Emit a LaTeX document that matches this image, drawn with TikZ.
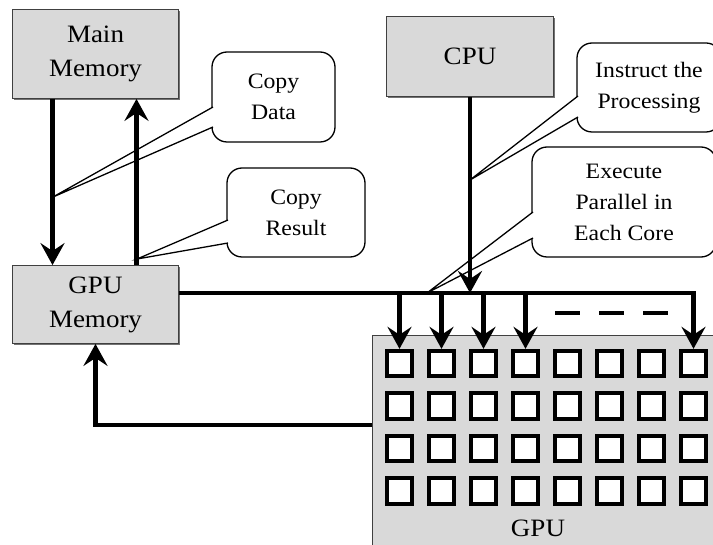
\documentclass[tikz,border=0pt]{standalone}
\usepackage{fontspec}
\setmainfont{Liberation Serif}[FakeStretch=1.08]
\usetikzlibrary{arrows.meta,shadows}
\begin{document}
\begin{tikzpicture}[x=1pt,y=-1pt,
  box/.style={draw=black!75, line width=0.8pt, fill=black!15,
    drop shadow={shadow xshift=1.8pt, shadow yshift=-1.8pt, fill=black!55, opacity=1},
    font=\fontsize{25}{34}\selectfont, align=center, inner sep=0pt},
  callout/.style={draw, line width=1.3pt, fill=white, rounded corners=15pt,
    font=\fontsize{22}{31}\selectfont, align=center, inner sep=0pt},
  wedge/.style={line width=1.3pt},
  flow/.style={line width=4.8pt, -{Stealth[length=22pt,width=24pt,inset=8pt]}},
  bus/.style={line width=4.8pt},
  core/.style={draw, line width=3.8pt, fill=white, minimum size=25.5pt, inner sep=0pt}
]
\useasboundingbox (0,0) rectangle (713,545);
\clip (0,0) rectangle (713,545);

% boxes
\node[box, minimum width=166pt, minimum height=89pt] (main) at (95.5,54) {Main\\Memory};
\node[box, minimum width=166pt, minimum height=78pt] (gmem) at (95.5,304.5) {GPU\\Memory};
\node[box, minimum width=167pt, minimum height=80pt] (cpu) at (470,56.5) {CPU};
\node[box, minimum width=360pt, minimum height=230pt, anchor=north west] (gpu) at (372,335) {};
\node[font=\fontsize{25}{34}\selectfont] (gpulabel) at (538,528) {GPU};

% cores
\foreach \c in {1,...,8}
  \foreach \r in {1,...,4}
    \node[core] (c\r\c) at ({399.5+42*(\c-1)},{363.5+42.5*(\r-1)}) {};

% callouts
\node[callout, minimum width=123pt, minimum height=90pt] (cdata) at (273.5,97) {Copy\\Data};
\node[callout, minimum width=138pt, minimum height=89pt] (cres) at (296,212.5) {Copy\\Result};
\node[callout, minimum width=144pt, minimum height=89pt] (cinst) at (649,87.5) {Instruct the\\Processing};
\node[callout, minimum width=184pt, minimum height=110pt] (cexec) at (624,202) {Execute\\Parallel in\\Each Core};

\coordinate (cdA) at (213,107);  \coordinate (cdB) at (213,127);  \coordinate (cdT) at (53,197);
\coordinate (crA) at (228,220);  \coordinate (crB) at (228,243);  \coordinate (crT) at (137,259);
\coordinate (ciA) at (578,96);   \coordinate (ciB) at (578,117);  \coordinate (ciT) at (470,180);
\coordinate (ceA) at (533,212);  \coordinate (ceB) at (533,238);  \coordinate (ceT) at (427,293);

\foreach \w in {cd,cr,ci,ce}{
  \fill[white] (\w A) -- (\w T) -- (\w B) -- cycle;
  \draw[wedge] (\w A) -- (\w T) -- (\w B);
}

% arrows
\draw[flow] ([xshift=-43pt]main.south) -- ([xshift=-43pt]gmem.north);
\draw[flow] ([xshift=41pt]gmem.north) -- ([xshift=41pt]main.south);

\coordinate (busL) at ([yshift=11.5pt]gmem.east);
\draw[flow] (busL) -| (c18.north);
\foreach \c in {1,...,4}
  \draw[flow] (c1\c.north |- busL) -- (c1\c.north);
\draw[flow] (cpu.south) -- (cpu.south |- busL);

\coordinate (dashL) at (555,313);
\coordinate (dashR) at (668,313);
\draw[bus, dash pattern=on 25pt off 19pt] (dashL) -- (dashR);

\coordinate (ret) at (372,425);
\draw[flow] (ret) -| (gmem.south);
\end{tikzpicture}
\end{document}
